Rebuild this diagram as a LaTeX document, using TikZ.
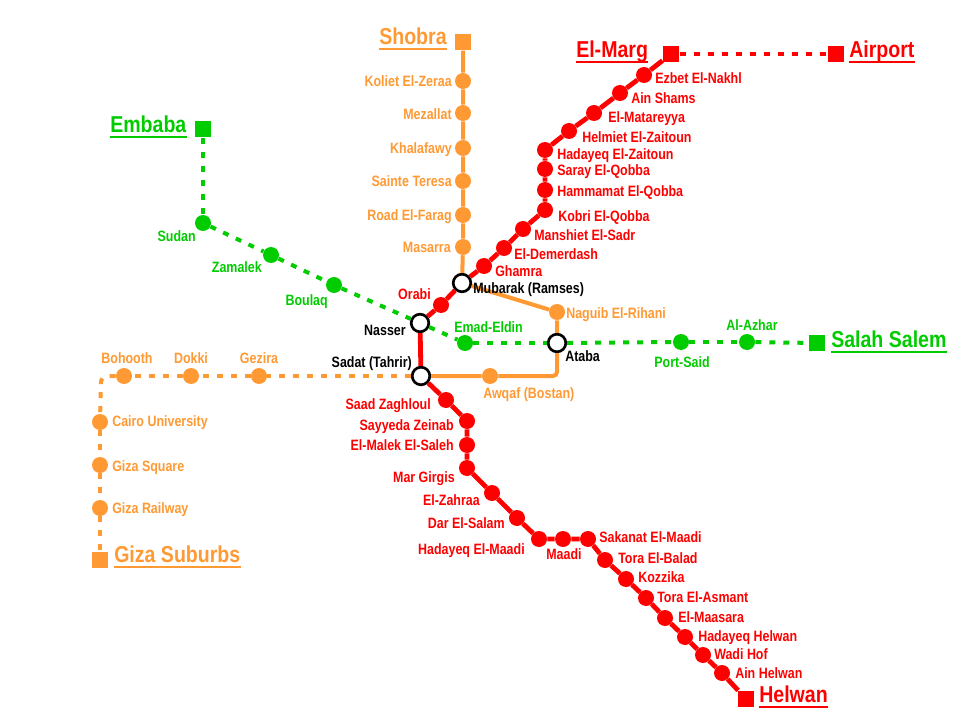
\documentclass[tikz,border=0pt]{standalone}
\usepackage{fontspec}
\usepackage{xcolor}
\newfontfamily\stnfont[FakeStretch=0.83]{Liberation Sans}
\newfontfamily\endfont[FakeStretch=0.85]{Liberation Sans}
\definecolor{metroorange}{HTML}{FF9933}
\definecolor{metrored}{HTML}{FF0000}
\definecolor{metrogreen}{HTML}{00CC00}
\tikzset{
  stn/.style={circle,fill=#1,inner sep=0pt,minimum size=12pt},
  term/.style={rectangle,fill=#1,inner sep=0pt,minimum size=12.4pt},
  hub/.style={circle,draw=black,fill=white,line width=2pt,inner sep=0pt,minimum size=13.2pt},
  txt/.style={text=#1,inner sep=0pt,text height=8pt,text depth=0pt,font=\stnfont\bfseries\fontsize{11.25pt}{12pt}\selectfont},
  bigtxt/.style={text=#1,inner sep=0pt,text height=12.5pt,text depth=3.2pt,font=\endfont\bfseries\fontsize{17.25pt}{18pt}\selectfont},
  solidline/.style={draw=#1,line width=3pt},
  dashline/.style={draw=#1,line width=3pt,dash pattern=on 4.5pt off 6pt},
  underl/.style={draw=#1,line width=1.5pt}
}
\begin{document}
\begin{tikzpicture}[x=0.75pt,y=-0.75pt]
  \useasboundingbox (0,0) rectangle (960,720);

  % interchanges
  \node[hub] (mubarak) at (462,283) {};
  \node[hub] (nasser) at (420,323) {};
  \node[hub] (sadat) at (421,376) {};
  \node[hub] (ataba) at (557,343) {};

  % red line stations
  \node[term=metrored] (elmarg) at (671,54) {};
  \node[term=metrored] (airport) at (836,54) {};
  \node[term=metrored] (helwan) at (746,699) {};
  \node[stn=metrored] (ezbet) at (644,75) {};
  \node[stn=metrored] (ainshams) at (620,93) {};
  \node[stn=metrored] (matareyya) at (594,113) {};
  \node[stn=metrored] (helmiet) at (569,131) {};
  \node[stn=metrored] (hadzaitoun) at (545,150) {};
  \node[stn=metrored] (saray) at (545,169) {};
  \node[stn=metrored] (hammamat) at (545,190) {};
  \node[stn=metrored] (kobri) at (545,210) {};
  \node[stn=metrored] (manshiet) at (523,229) {};
  \node[stn=metrored] (demerdash) at (504,248) {};
  \node[stn=metrored] (ghamra) at (484,266) {};
  \node[stn=metrored] (orabi) at (441,305) {};
  \node[stn=metrored] (saad) at (446,400) {};
  \node[stn=metrored] (sayyeda) at (467,421) {};
  \node[stn=metrored] (malek) at (467,445) {};
  \node[stn=metrored] (girgis) at (467,468) {};
  \node[stn=metrored] (zahraa) at (492,493) {};
  \node[stn=metrored] (darsalam) at (517,518) {};
  \node[stn=metrored] (hadmaadi) at (539,539) {};
  \node[stn=metrored] (maadi) at (563,539) {};
  \node[stn=metrored] (sakanat) at (588,539) {};
  \node[stn=metrored] (balad) at (605,560) {};
  \node[stn=metrored] (kozzika) at (626,579) {};
  \node[stn=metrored] (asmant) at (646,598) {};
  \node[stn=metrored] (maasara) at (665,618) {};
  \node[stn=metrored] (hadhelwan) at (685,637) {};
  \node[stn=metrored] (wadihof) at (703,655) {};
  \node[stn=metrored] (ainhelwan) at (722,673) {};

  % orange line stations
  \node[term=metroorange] (shobra) at (463,42) {};
  \node[term=metroorange] (gizasub) at (100,560) {};
  \node[stn=metroorange] (koliet) at (463,81) {};
  \node[stn=metroorange] (mezallat) at (463,113) {};
  \node[stn=metroorange] (khalafawy) at (463,148) {};
  \node[stn=metroorange] (sainte) at (463,181) {};
  \node[stn=metroorange] (farag) at (463,215) {};
  \node[stn=metroorange] (masarra) at (463,247) {};
  \node[stn=metroorange] (naguib) at (557,312) {};
  \node[stn=metroorange] (awqaf) at (490,376) {};
  \node[stn=metroorange] (gezira) at (259,376) {};
  \node[stn=metroorange] (dokki) at (191,376) {};
  \node[stn=metroorange] (bohooth) at (124,376) {};
  \node[stn=metroorange] (cairouni) at (100,422) {};
  \node[stn=metroorange] (gizasq) at (100,465) {};
  \node[stn=metroorange] (gizarail) at (100,508) {};
  \coordinate (atabacorner) at (557,376);
  \coordinate (gizacorner) at (101,376);

  % green line stations
  \node[term=metrogreen] (embaba) at (203,129) {};
  \node[term=metrogreen] (salah) at (817,343) {};
  \node[stn=metrogreen] (sudan) at (203,223) {};
  \node[stn=metrogreen] (zamalek) at (271,255) {};
  \node[stn=metrogreen] (boulaq) at (334,285) {};
  \node[stn=metrogreen] (emad) at (465,343) {};
  \node[stn=metrogreen] (portsaid) at (681,342) {};
  \node[stn=metrogreen] (azhar) at (747,342) {};

  % red line
  \draw[dashline=metrored] (elmarg) -- (airport);
  \draw[solidline=metrored,line width=3.6pt] (elmarg) -- (ezbet) -- (ainshams) -- (matareyya) -- (helmiet) -- (hadzaitoun) -- (saray) -- (hammamat) -- (kobri) -- (manshiet) -- (demerdash) -- (ghamra) -- (mubarak) -- (orabi) -- (nasser) -- (sadat) -- (saad) -- (sayyeda) -- (malek) -- (girgis) -- (zahraa) -- (darsalam) -- (hadmaadi) -- (maadi) -- (sakanat) -- (balad) -- (kozzika) -- (asmant) -- (maasara) -- (hadhelwan) -- (wadihof) -- (ainhelwan) -- (helwan);

  % orange line
  \draw[solidline=metroorange] (shobra) -- (koliet) -- (mezallat) -- (khalafawy) -- (sainte) -- (farag) -- (masarra) -- (mubarak) -- (naguib) -- (ataba);
  \draw[solidline=metroorange,rounded corners=3pt] (ataba) -- (atabacorner) -- (awqaf) -- (sadat);
  \draw[dashline=metroorange] (sadat) -- (gezira);
  \draw[dashline=metroorange] (gezira) -- (dokki);
  \draw[dashline=metroorange] (dokki) -- (bohooth);
  \draw[dashline=metroorange,rounded corners=5pt] (bohooth) -- (gizacorner) -- (cairouni);
  \draw[dashline=metroorange] (cairouni) -- (gizasq);
  \draw[dashline=metroorange] (gizasq) -- (gizarail);
  \draw[dashline=metroorange] (gizarail) -- (gizasub);

  % green line
  \draw[dashline=metrogreen] (embaba) -- (sudan);
  \draw[dashline=metrogreen] (sudan) -- (zamalek);
  \draw[dashline=metrogreen] (zamalek) -- (boulaq);
  \draw[dashline=metrogreen] (boulaq) -- (nasser);
  \draw[dashline=metrogreen] (nasser) -- (emad);
  \draw[dashline=metrogreen] (emad) -- (ataba);
  \draw[dashline=metrogreen] (ataba) -- (portsaid);
  \draw[dashline=metrogreen] (portsaid) -- (azhar);
  \draw[dashline=metrogreen] (azhar) -- (salah);

  % terminus names
  \node[bigtxt=metroorange,anchor=west] (shobral) at (379,38) {Shobra};
  \draw[underl=metroorange] (shobral.south west) -- (shobral.south east);
  \node[bigtxt=metroorange,anchor=west] (gizasubl) at (114,556) {Giza Suburbs};
  \draw[underl=metroorange] (gizasubl.south west) -- (gizasubl.south east);
  \node[bigtxt=metrored,anchor=west] (elmargl) at (576,51) {El-Marg};
  \draw[underl=metrored] (elmargl.south west) -- (elmargl.south east);
  \node[bigtxt=metrored,anchor=west] (airportl) at (849,51) {Airport};
  \draw[underl=metrored] (airportl.south west) -- (airportl.south east);
  \node[bigtxt=metrored,anchor=west] (helwanl) at (759,696) {Helwan};
  \draw[underl=metrored] (helwanl.south west) -- (helwanl.south east);
  \node[bigtxt=metrogreen,anchor=west] (embabal) at (110,126) {Embaba};
  \draw[underl=metrogreen] (embabal.south west) -- (embabal.south east);
  \node[bigtxt=metrogreen,anchor=west] (salahl) at (831,341) {Salah Salem};
  \draw[underl=metrogreen] (salahl.south west) -- (salahl.south east);

  % interchange names
  \node[txt=black,anchor=west] (mubarakl) at (473,288) {Mubarak (Ramses)};
  \node[txt=black,anchor=east] (nasserl) at (406,330) {Nasser};
  \node[txt=black,anchor=east] (sadatl) at (412,362) {Sadat (Tahrir)};
  \node[txt=black,anchor=west] (atabal) at (565,356) {Ataba};

  % red names
  \node[txt=metrored,anchor=west] (ezbetl) at (655,78) {Ezbet El-Nakhl};
  \node[txt=metrored,anchor=west] (ainshamsl) at (631,98) {Ain Shams};
  \node[txt=metrored,anchor=west] (matareyyal) at (608,117) {El-Matareyya};
  \node[txt=metrored,anchor=west] (helmietl) at (582,137) {Helmiet El-Zaitoun};
  \node[txt=metrored,anchor=west] (hadzaitounl) at (557,154) {Hadayeq El-Zaitoun};
  \node[txt=metrored,anchor=west] (sarayl) at (557,170) {Saray El-Qobba};
  \node[txt=metrored,anchor=west] (hammamatl) at (557,191) {Hammamat El-Qobba};
  \node[txt=metrored,anchor=west] (kobril) at (558,216) {Kobri El-Qobba};
  \node[txt=metrored,anchor=west] (manshietl) at (534,235) {Manshiet El-Sadr};
  \node[txt=metrored,anchor=west] (demerdashl) at (514,254) {El-Demerdash};
  \node[txt=metrored,anchor=west] (ghamral) at (495,271) {Ghamra};
  \node[txt=metrored,anchor=east] (orabil) at (431,294) {Orabi};
  \node[txt=metrored,anchor=east] (saadl) at (431,404) {Saad Zaghloul};
  \node[txt=metrored,anchor=east] (sayyedal) at (454,425) {Sayyeda Zeinab};
  \node[txt=metrored,anchor=east] (malekl) at (454,445) {El-Malek El-Saleh};
  \node[txt=metrored,anchor=east] (girgisl) at (455,477) {Mar Girgis};
  \node[txt=metrored,anchor=east] (zahraal) at (480,500) {El-Zahraa};
  \node[txt=metrored,anchor=east] (darsalaml) at (505,523) {Dar El-Salam};
  \node[txt=metrored,anchor=east] (hadmaadil) at (525,549) {Hadayeq El-Maadi};
  \node[txt=metrored] (maadil) at (564,554) {Maadi};
  \node[txt=metrored,anchor=west] (sakanatl) at (599,537) {Sakanat El-Maadi};
  \node[txt=metrored,anchor=west] (baladl) at (618,558) {Tora El-Balad};
  \node[txt=metrored,anchor=west] (kozzikal) at (638,577) {Kozzika};
  \node[txt=metrored,anchor=west] (asmantl) at (657,597) {Tora El-Asmant};
  \node[txt=metrored,anchor=west] (maasaral) at (678,617) {El-Maasara};
  \node[txt=metrored,anchor=west] (hadhelwanl) at (698,636) {Hadayeq Helwan};
  \node[txt=metrored,anchor=west] (wadihofl) at (714,654) {Wadi Hof};
  \node[txt=metrored,anchor=west] (ainhelwanl) at (735,673) {Ain Helwan};

  % orange names
  \node[txt=metroorange,anchor=east] (kolietl) at (452,81) {Koliet El-Zeraa};
  \node[txt=metroorange,anchor=east] (mezallatl) at (452,114) {Mezallat};
  \node[txt=metroorange,anchor=east] (khalafawyl) at (452,148) {Khalafawy};
  \node[txt=metroorange,anchor=east] (saintel) at (452,181) {Sainte Teresa};
  \node[txt=metroorange,anchor=east] (faragl) at (452,215) {Road El-Farag};
  \node[txt=metroorange,anchor=east] (masarral) at (451,247) {Masarra};
  \node[txt=metroorange,anchor=west] (naguibl) at (566,313) {Naguib El-Rihani};
  \node[txt=metroorange,anchor=west] (awqafl) at (483,393) {Awqaf (Bostan)};
  \node[txt=metroorange] (gezirall) at (259,358) {Gezira};
  \node[txt=metroorange] (dokkil) at (191,358) {Dokki};
  \node[txt=metroorange] (bohoothl) at (127,358) {Bohooth};
  \node[txt=metroorange,anchor=west] (cairounil) at (112,421) {Cairo University};
  \node[txt=metroorange,anchor=west] (gizasql) at (112,466) {Giza Square};
  \node[txt=metroorange,anchor=west] (gizaraill) at (112,508) {Giza Railway};

  % green names
  \node[txt=metrogreen,anchor=east] (sudanl) at (196,236) {Sudan};
  \node[txt=metrogreen,anchor=east] (zamalekl) at (262,267) {Zamalek};
  \node[txt=metrogreen,anchor=east] (boulaql) at (328,300) {Boulaq};
  \node[txt=metrogreen,anchor=west] (emadl) at (454,327) {Emad-Eldin};
  \node[txt=metrogreen] (portsaidl) at (682,362) {Port-Said};
  \node[txt=metrogreen] (azharl) at (752,325) {Al-Azhar};
\end{tikzpicture}
\end{document}
